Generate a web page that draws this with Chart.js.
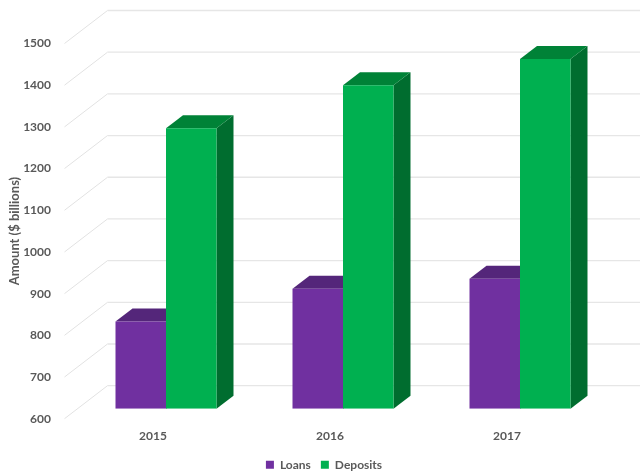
<!DOCTYPE html>
<html>
<head>
<meta charset="utf-8">
<style>html,body{margin:0;padding:0;background:#fff}canvas{display:block}</style>
<script src="https://cdn.jsdelivr.net/npm/chart.js@4"></script>
</head>
<body>
<canvas id="c" width="640" height="474"></canvas>
<script>
const categories = ['2015', '2016', '2017'];
const loans = [809, 888, 912];
const deposits = [1273, 1376, 1439];
const yTicks = [600, 700, 800, 900, 1000, 1100, 1200, 1300, 1400, 1500];

const FONT = 'Lato, Carlito, sans-serif';
const TEXT = '#595959';
const faces = {
  Loans: {top: '#54267A', side: '#4A2170'},
  Deposits: {top: '#008237', side: '#006D2F'}
};

const wall3d = {
  id: 'wall3d',
  beforeDatasetsDraw(chart) {
    const {ctx, scales: {y}, chartArea: a} = chart;
    ctx.save();
    yTicks.forEach(t => {
      const py = y.getPixelForValue(t);
      ctx.strokeStyle = '#E2E2E2';
      ctx.lineWidth = 1;
      ctx.beginPath();
      ctx.moveTo(a.left, py);
      ctx.lineTo(a.left + 43, py - 33);
      ctx.stroke();
      ctx.strokeStyle = '#E6E6E6';
      ctx.lineWidth = 1.3;
      ctx.beginPath();
      ctx.moveTo(a.left + 43, py - 33);
      ctx.lineTo(640, py - 33);
      ctx.stroke();
    });
    ctx.restore();
    // bars sit 13px right / 10px up from the front plane, with 17x13 depth
    ctx.save();
    ctx.translate(13, -10);
    const dx = 17, dy = -13;
    chart.data.datasets.forEach((ds, i) => {
      const f = faces[ds.label];
      chart.getDatasetMeta(i).data.forEach(b => {
        const l = b.x - b.width / 2, r = b.x + b.width / 2;
        ctx.fillStyle = f.side;
        ctx.beginPath();
        ctx.moveTo(r, b.y); ctx.lineTo(r + dx, b.y + dy);
        ctx.lineTo(r + dx, b.base + dy); ctx.lineTo(r, b.base);
        ctx.closePath(); ctx.fill();
        ctx.fillStyle = f.top;
        ctx.beginPath();
        ctx.moveTo(l, b.y); ctx.lineTo(l + dx, b.y + dy);
        ctx.lineTo(r + dx, b.y + dy); ctx.lineTo(r, b.y);
        ctx.closePath(); ctx.fill();
      });
    });
    // leave translated for the library's front faces
  },
  afterDatasetsDraw(chart) {
    chart.ctx.restore();
  }
};

new Chart(document.getElementById('c'), {
  type: 'bar',
  data: {
    labels: categories,
    datasets: [
      {label: 'Loans', data: loans, base: 600, backgroundColor: '#7030A0', barPercentage: 1, categoryPercentage: 0.5706},
      {label: 'Deposits', data: deposits, base: 600, backgroundColor: '#00B050', barPercentage: 1, categoryPercentage: 0.5706}
    ]
  },
  plugins: [wall3d],
  options: {
    responsive: false,
    animation: false,
    devicePixelRatio: 1,
    layout: {padding: {left: 8, top: 43.5, right: 0, bottom: -6.7}},
    plugins: {
      tooltip: {enabled: false},
      legend: {
        position: 'bottom',
        labels: {boxWidth: 8, boxHeight: 8, padding: 10, color: TEXT, font: {family: FONT, size: 12, weight: 'bold'}}
      }
    },
    scales: {
      x: {
        grid: {display: false, drawTicks: false},
        border: {display: false},
        afterFit: s => { s.height = 30; },
        ticks: {padding: 10, color: TEXT, font: {family: FONT, size: 12, weight: 'bold'}}
      },
      y: {
        min: 600, max: 1500,
        grid: {display: false, drawTicks: false},
        border: {display: false},
        afterFit: s => { s.width = 56.5; },
        afterBuildTicks: s => { s.ticks = yTicks.map(v => ({value: v})); },
        title: {display: true, text: 'Amount ($ billions)', color: TEXT, padding: {top: -1, bottom: 0}, font: {family: FONT, size: 13, weight: 'bold'}},
        ticks: {padding: 13.5, color: TEXT, callback: v => String(v), font: {family: FONT, size: 12, weight: 'bold'}}
      },
      yRight: {
        position: 'right',
        min: 600, max: 1500,
        grid: {display: false, drawTicks: false},
        border: {display: false},
        ticks: {display: false},
        afterFit: s => { s.width = 44.5; }
      }
    }
  }
});
</script>
</body>
</html>
